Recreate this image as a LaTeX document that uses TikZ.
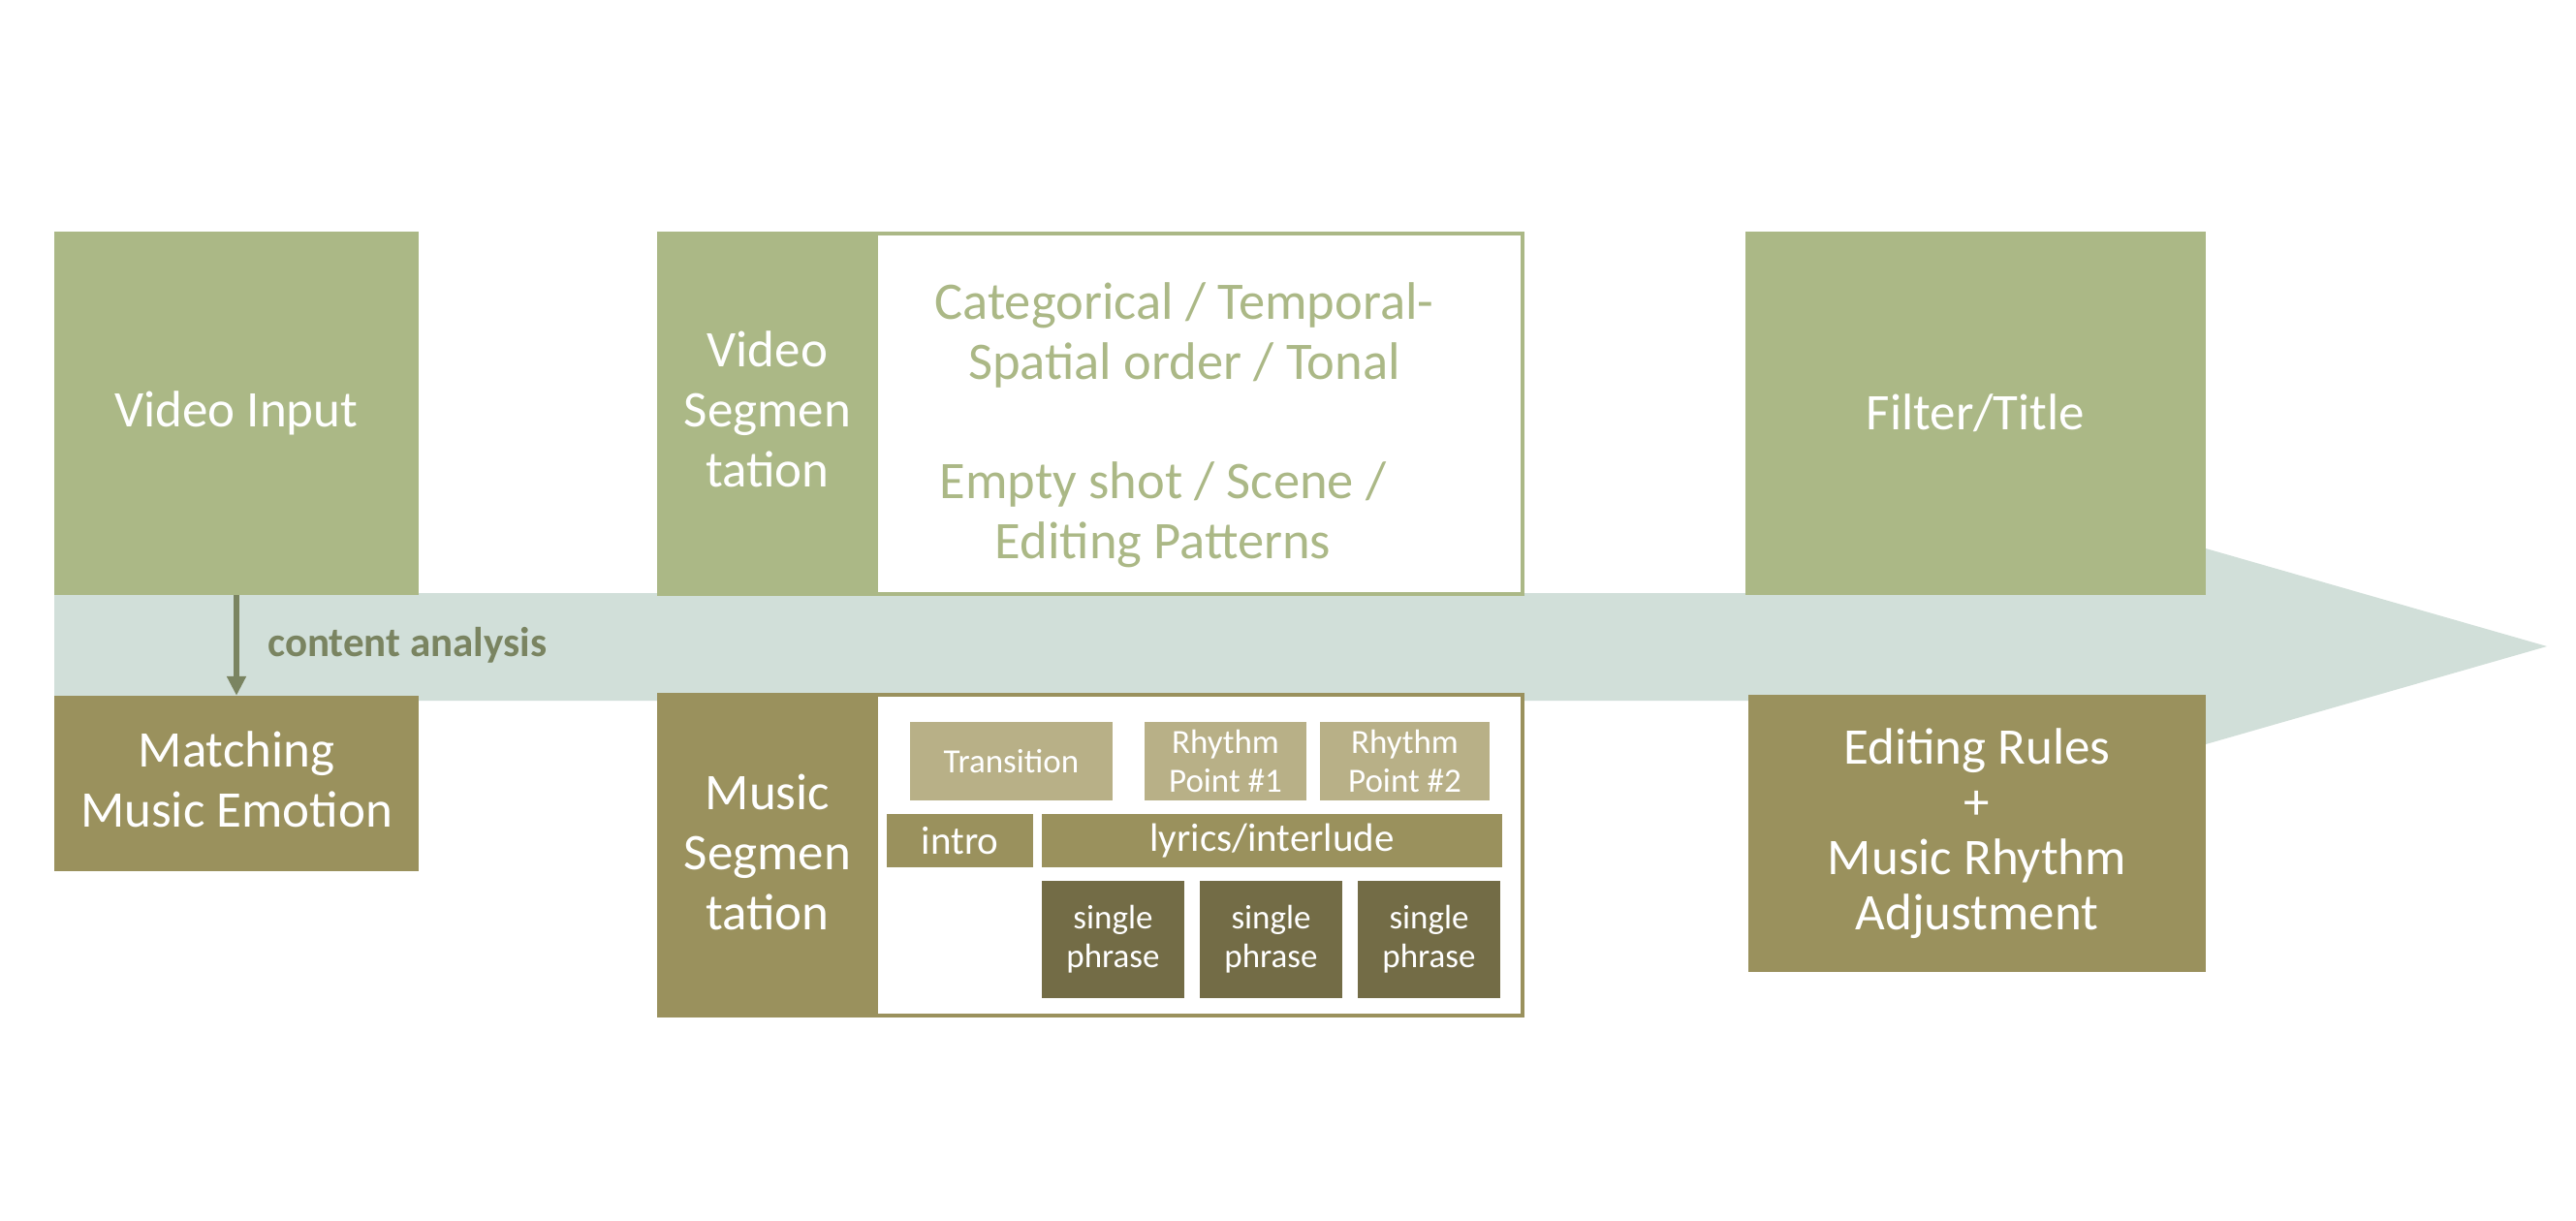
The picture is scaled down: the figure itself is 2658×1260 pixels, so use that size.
\documentclass[tikz,border=0pt]{standalone}
\usepackage{fontspec}
\setmainfont{Carlito}
\usetikzlibrary{arrows.meta}
\definecolor{lgreen}{HTML}{ABB886}
\definecolor{olive}{HTML}{9A915D}
\definecolor{tan}{HTML}{B8B087}
\definecolor{dolive}{HTML}{736C46}
\definecolor{band}{HTML}{D1DFD9}
\definecolor{atext}{HTML}{7A8461}
\newcommand\fbig{\fontsize{53}{62}\selectfont}
\newcommand\fcat{\fontsize{54.5}{62}\selectfont}
\newcommand\fedit{\fontsize{53}{57}\selectfont}
\newcommand\fmid{\fontsize{41}{48}\selectfont}
\newcommand\fsmall{\fontsize{35}{40}\selectfont}
\newcommand\fbold{\fontsize{43}{50}\selectfont\bfseries}
\begin{document}
\begin{tikzpicture}[x=1pt,y=-1pt,
  box/.style={draw=none, inner sep=0pt, align=center, text=white},
  frame/.style={fill=white, inner sep=0pt, line width=4pt},
  arr/.style={draw=atext, line width=6pt, -{Triangle[length=20pt,width=19pt]}}]
\useasboundingbox (0,0) rectangle (2658,1260);
\fill[white] (0,0) rectangle (2658,1260);
% timeline band with arrowhead
\fill[band] (56,612) -- (2276,612) -- (2276,566) -- (2628,667) -- (2276,768) -- (2276,723) -- (56,723) -- cycle;
% left column
\node[box, fill=lgreen, minimum width=376pt, minimum height=375pt, font=\fbig] (vin) at (244,426.5) {Video Input};
\node[box, fill=olive, minimum width=376pt, minimum height=181pt] (match) at (244,808.5) {};
\node[box, font=\fbig] (matcht) at (244,804) {Matching\\Music Emotion};
\draw[arr] (vin.south) -- (match.north);
\node[anchor=base west, inner sep=0pt, font=\fbold, text=atext] (ca) at (276,677) {content analysis};
% video segmentation
\node[frame, draw=lgreen, minimum width=891pt, minimum height=372pt] (vframe) at (1125.5,427) {};
\node[box, fill=lgreen, minimum width=228pt, minimum height=376pt] (vseg) at (792,427) {};
\node[box, font=\fbig] (vsegt) at (792,422) {Video\\Segmen\\tation};
\node[inner sep=0pt, align=center, text=lgreen, font=\fcat] (vt1) at (1222,346) {Categorical / Temporal-\\Spatial order / Tonal};
\node[inner sep=0pt, align=center, text=lgreen, font=\fcat] (vt2) at (1200,531) {Empty shot / Scene /\\Editing Patterns};
% music segmentation
\node[frame, draw=olive, minimum width=891pt, minimum height=331pt] (mframe) at (1125.5,882.5) {};
\node[box, fill=olive, minimum width=228pt, minimum height=335pt] (mseg) at (792,882.5) {};
\node[box, font=\fbig] (msegt) at (792,879) {Music\\Segmen\\tation};
\node[box, fill=tan, minimum width=209pt, minimum height=81pt, font=\fsmall] (trans) at (1043.5,785.5) {Transition};
\node[box, fill=tan, minimum width=167pt, minimum height=81pt, font=\fsmall] (rp1) at (1264.5,785.5) {Rhythm\\Point \#1};
\node[box, fill=tan, minimum width=175pt, minimum height=81pt, font=\fsmall] (rp2) at (1449.5,785.5) {Rhythm\\Point \#2};
\node[box, fill=olive, minimum width=151pt, minimum height=55pt, font=\fmid] (intro) at (990.5,867.5) {intro};
\node[box, fill=olive, minimum width=475pt, minimum height=55pt, font=\fmid] (lyr) at (1312.5,867.5) {lyrics/interlude};
\node[box, fill=dolive, minimum width=147pt, minimum height=121pt, font=\fsmall] (ph1) at (1148.5,969.5) {single\\phrase};
\node[box, fill=dolive, minimum width=147pt, minimum height=121pt, font=\fsmall] (ph2) at (1311.5,969.5) {single\\phrase};
\node[box, fill=dolive, minimum width=147pt, minimum height=121pt, font=\fsmall] (ph3) at (1474.5,969.5) {single\\phrase};
% right column
\node[box, fill=lgreen, minimum width=475pt, minimum height=375pt, font=\fbig] (filt) at (2038.5,426.5) {Filter/Title};
\node[box, fill=olive, minimum width=472pt, minimum height=286pt, font=\fedit] (edit) at (2040,860) {Editing Rules\\+\\Music Rhythm\\Adjustment};
\end{tikzpicture}
\end{document}
